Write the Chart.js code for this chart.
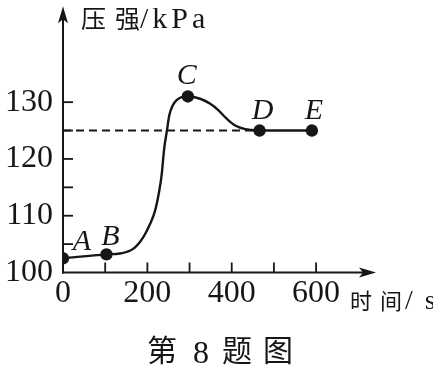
<!DOCTYPE html>
<html><head><meta charset="utf-8">
<script src="https://cdn.jsdelivr.net/npm/chart.js@4.4.1/dist/chart.umd.min.js"></script>
<style>html,body{margin:0;padding:0;background:#fff;overflow:hidden}canvas{display:block}</style>
</head><body>
<canvas id="c" width="433" height="371"></canvas>
<script>
// ---- data ----
const curveX = [0, 103, 135, 167, 190, 206, 218, 228, 234, 240, 246, 252, 260, 270, 281, 296, 325, 349, 368, 388, 408, 432, 447, 466, 590];
const curveY = [102.5, 103.2, 103.35, 104.2, 106.2, 108.5, 110.8, 114.3, 117.3, 121.9, 124.8, 127.7, 129.4, 130.4, 130.9, 131.0, 130.6, 129.7, 128.6, 127.1, 125.9, 125.25, 125.1, 125.0, 125.0];
const pointNames = ['A', 'B', 'C', 'D', 'E'];
const pointX = [0, 103, 296, 466, 590];
const pointY = [102.5, 103.2, 131.0, 125.0, 125.0];
const refLineX = [0, 466];
const refLineY = [125, 125];
const yTickMarks = [105, 110, 115, 120, 125, 130];
const yTickLabels = [100, 110, 120, 130];
const xTickMarks = [100, 200, 300, 400, 500, 600];
const xTickLabels = [0, 200, 400, 600];
const yTitle = '压强/kPa';
const xTitle = '时间/s';
const caption = ['第', '8', '题', '图'];

const ink = '#161616';
const serif = "'Liberation Serif','DejaVu Serif','Noto Sans CJK SC',serif";
const cjk = "'Noto Sans CJK SC','Liberation Serif',sans-serif";

const zip = (xs, ys) => xs.map((v, i) => ({x: v, y: ys[i]}));

// draws text char by char with extra spacing, returns the end x
function drawSpaced(ctx, text, x, y, spacing) {
  for (const ch of text) {
    ctx.fillText(ch, x, y);
    x += ctx.measureText(ch).width + spacing;
  }
  return x;
}
// split a title into its CJK head and Latin tail
function splitTitle(t) {
  const m = t.match(/^([^\x00-\x7f]+)(.*)$/);
  return m ? [m[1], m[2]] : ['', t];
}

const labelOffsets = {A: [19, -8], B: [4, -9], C: [-1, -12], D: [3, -12], E: [2, -12]};

const deco = {
  id: 'deco',
  beforeDatasetsDraw(chart) {
    const {ctx, chartArea: a, scales: {x, y}} = chart;
    const x0 = x.getPixelForValue(0), y0 = y.getPixelForValue(100);
    ctx.save();
    ctx.strokeStyle = ink; ctx.fillStyle = ink; ctx.lineWidth = 2;
    // y axis with arrow
    ctx.beginPath(); ctx.moveTo(x0, y0 + 1); ctx.lineTo(x0, a.top + 12); ctx.stroke();
    ctx.beginPath(); ctx.moveTo(x0, a.top); ctx.lineTo(x0 - 5, a.top + 17); ctx.lineTo(x0, a.top + 13); ctx.lineTo(x0 + 5, a.top + 17); ctx.closePath(); ctx.fill();
    // x axis with arrow
    ctx.beginPath(); ctx.moveTo(x0 - 1, y0); ctx.lineTo(a.right - 12, y0); ctx.stroke();
    ctx.beginPath(); ctx.moveTo(a.right, y0); ctx.lineTo(a.right - 17, y0 - 5); ctx.lineTo(a.right - 13, y0); ctx.lineTo(a.right - 17, y0 + 5); ctx.closePath(); ctx.fill();
    // inward tick marks
    ctx.lineWidth = 1.8;
    yTickMarks.forEach(v => { const p = y.getPixelForValue(v); ctx.beginPath(); ctx.moveTo(x0, p); ctx.lineTo(x0 + 10, p); ctx.stroke(); });
    xTickMarks.forEach(v => { const p = x.getPixelForValue(v); ctx.beginPath(); ctx.moveTo(p, y0); ctx.lineTo(p, y0 - 10); ctx.stroke(); });
    ctx.restore();
  },
  afterDraw(chart) {
    const {ctx, scales: {x, y}} = chart;
    ctx.save();
    ctx.fillStyle = ink;
    ctx.textBaseline = 'alphabetic';
    // point labels
    ctx.font = 'italic 30px ' + serif;
    ctx.textAlign = 'center';
    pointNames.forEach((n, i) => {
      const o = labelOffsets[n];
      ctx.fillText(n, x.getPixelForValue(pointX[i]) + o[0], y.getPixelForValue(pointY[i]) + o[1]);
    });
    ctx.textAlign = 'left';
    // y axis title
    const [yh, yt] = splitTitle(yTitle);
    ctx.font = '25px ' + cjk;
    drawSpaced(ctx, yh, 81, 28, 9);
    ctx.font = '30px ' + serif;
    drawSpaced(ctx, yt, 140, 28, 4);
    // x axis title (runs off the right edge, as in the reference)
    const [xh, xt] = splitTitle(xTitle);
    ctx.font = '22px ' + cjk;
    drawSpaced(ctx, xh, 350, 309, 8);
    ctx.font = '28px ' + serif;
    drawSpaced(ctx, xt, 405, 309, 12);
    // caption
    ctx.font = '30px ' + cjk;
    ctx.fillText(caption[0], 147, 361);
    ctx.font = '32px ' + serif;
    ctx.fillText(caption[1], 193, 363);
    ctx.font = '30px ' + cjk;
    ctx.fillText(caption[2], 222, 361);
    ctx.fillText(caption[3], 263, 361);
    ctx.restore();
  }
};

new Chart(document.getElementById('c'), {
  type: 'scatter',
  data: {
    datasets: [
      {data: zip(pointX, pointY), pointRadius: 6.2, pointBackgroundColor: ink, pointBorderWidth: 0, showLine: false},
      {data: zip(curveX, curveY), showLine: true, borderColor: ink, borderWidth: 2.4, pointRadius: 0, cubicInterpolationMode: 'monotone', fill: false},
      {data: zip(refLineX, refLineY), showLine: true, borderColor: ink, borderWidth: 2, borderDash: [8, 5], pointRadius: 0, fill: false}
    ]
  },
  options: {
    responsive: false,
    animation: false,
    events: [],
    layout: {padding: {left: 0, top: 3, right: 57, bottom: 0}},
    plugins: {legend: {display: false}, tooltip: {enabled: false}},
    scales: {
      x: {
        type: 'linear', min: 0, max: 742,
        grid: {display: false, drawTicks: false}, border: {display: false},
        ticks: {font: {family: serif, size: 32}, color: ink, padding: 2, maxRotation: 0, autoSkip: false},
        afterBuildTicks: s => { s.ticks = xTickLabels.map(v => ({value: v})); },
        afterFit: s => { s.height = 98.5; s.paddingLeft = 0; s.paddingRight = 0; }
      },
      y: {
        type: 'linear', min: 100, max: 146.9,
        grid: {display: false, drawTicks: false}, border: {display: false},
        ticks: {font: {family: serif, size: 32}, color: ink, padding: 10, autoSkip: false},
        afterBuildTicks: s => { s.ticks = yTickLabels.map(v => ({value: v})); },
        afterFit: s => { s.width = 63; s.paddingTop = 0; s.paddingBottom = 0; }
      }
    }
  },
  plugins: [deco]
});
</script>
</body></html>
